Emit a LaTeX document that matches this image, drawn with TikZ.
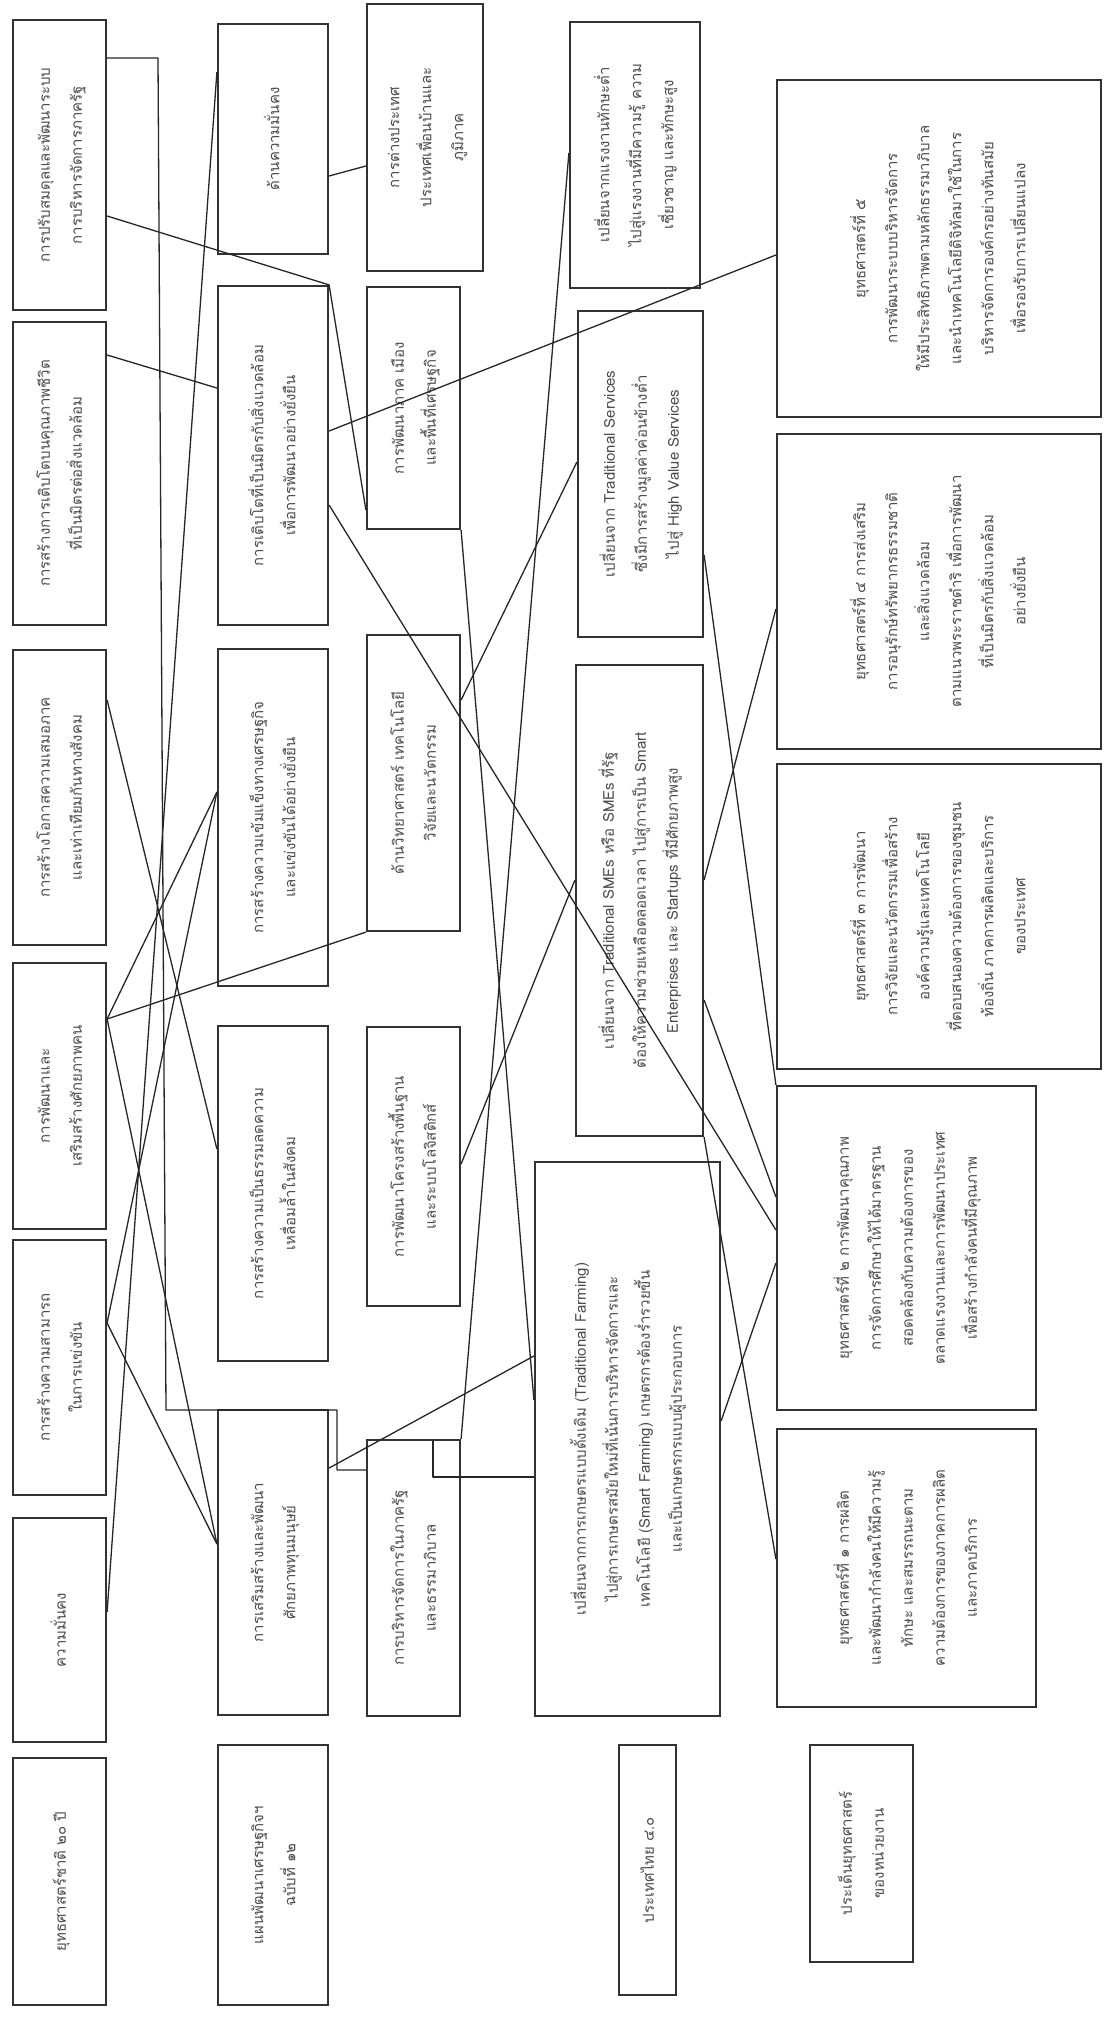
\documentclass[tikz,border=0pt]{standalone}
\usepackage{fontspec}
\setmainfont{Loma}[Script=Thai]
\usepackage{graphicx}
\newcommand\mybox[6]{%
  \node[box, minimum width={(#4)-(#2)}, minimum height={(#5)-(#3)}] (#1)
    at ({((#2)+(#4))/2},{((#3)+(#5))/2})
    {\rotatebox{90}{\begin{tabular}{@{}c@{}}#6\end{tabular}}};}
\begin{document}
\begin{tikzpicture}[x=1pt,y=-1pt,
  box/.style={draw=black!80, line width=2.2pt, inner sep=0pt,
    font=\fontsize{15}{32}\selectfont, text=black!70},
  conn/.style={draw=black!85, line width=1.3pt, line join=round}]
\useasboundingbox[fill=white] (0,0) rectangle (1105,2031);
% column 1
\mybox{A1}{13}{20}{106}{310}{การปรับสมดุลและพัฒนาระบบ\\การบริหารจัดการภาครัฐ}
\mybox{A2}{13}{322}{106}{625}{การสร้างการเติบโตบนคุณภาพชีวิต\\ที่เป็นมิตรต่อสิ่งแวดล้อม}
\mybox{A3}{13}{650}{106}{945}{การสร้างโอกาสความเสมอภาค\\และเท่าเทียมกันทางสังคม}
\mybox{A4}{13}{963}{106}{1229}{การพัฒนาและ\\เสริมสร้างศักยภาพคน}
\mybox{A5}{13}{1240}{106}{1495}{การสร้างความสามารถ\\ในการแข่งขัน}
\mybox{A6}{13}{1518}{106}{1742}{ความมั่นคง}
\mybox{A7}{13}{1758}{106}{2005}{ยุทธศาสตร์ชาติ ๒๐ ปี}
% column 2
\mybox{B1}{218}{24}{328}{254}{ด้านความมั่นคง}
\mybox{B2}{218}{286}{328}{625}{การเติบโตที่เป็นมิตรกับสิ่งแวดล้อม\\เพื่อการพัฒนาอย่างยั่งยืน}
\mybox{B3}{218}{649}{328}{986}{การสร้างความเข้มแข็งทางเศรษฐกิจ\\และแข่งขันได้อย่างยั่งยืน}
\mybox{B4}{218}{1026}{328}{1361}{การสร้างความเป็นธรรมลดความ\\เหลื่อมล้ำในสังคม}
\mybox{B5}{218}{1410}{328}{1715}{การเสริมสร้างและพัฒนา\\ศักยภาพทุนมนุษย์}
\mybox{B6}{218}{1745}{328}{2005}{แผนพัฒนาเศรษฐกิจฯ\\ฉบับที่ ๑๒}
% column 3
\mybox{C1}{367}{4}{483}{271}{การต่างประเทศ\\ประเทศเพื่อนบ้านและ\\ภูมิภาค}
\mybox{C2}{367}{287}{460}{529}{การพัฒนาภาค เมือง\\และพื้นที่เศรษฐกิจ}
\mybox{C3}{367}{635}{460}{931}{ด้านวิทยาศาสตร์ เทคโนโลยี\\วิจัยและนวัตกรรม}
\mybox{C4}{367}{1027}{460}{1306}{การพัฒนาโครงสร้างพื้นฐาน\\และระบบโลจิสติกส์}
\mybox{C5}{367}{1440}{460}{1716}{การบริหารจัดการในภาครัฐ\\และธรรมาภิบาล}
% column 4
\mybox{D1}{570}{22}{700}{288}{เปลี่ยนจากแรงงานทักษะต่ำ\\ไปสู่แรงงานที่มีความรู้ ความ\\เชี่ยวชาญ และทักษะสูง}
\mybox{D2}{578}{311}{703}{637}{เปลี่ยนจาก Traditional Services\\ซึ่งมีการสร้างมูลค่าค่อนข้างต่ำ\\ไปสู่ High Value Services}
\mybox{D3}{576}{665}{703}{1136}{เปลี่ยนจาก Traditional SMEs หรือ SMEs ที่รัฐ\\ต้องให้ความช่วยเหลือตลอดเวลา ไปสู่การเป็น Smart\\Enterprises และ Startups ที่มีศักยภาพสูง}
\mybox{D4}{535}{1162}{720}{1716}{เปลี่ยนจากการเกษตรแบบดั้งเดิม (Traditional Farming)\\ไปสู่การเกษตรสมัยใหม่ที่เน้นการบริหารจัดการและ\\เทคโนโลยี (Smart Farming) เกษตรกรต้องร่ำรวยขึ้น\\และเป็นเกษตรกรแบบผู้ประกอบการ}
\mybox{D5}{619}{1745}{676}{1995}{ประเทศไทย ๔.๐}
% column 5
\mybox{E1}{777}{80}{1101}{417}{ยุทธศาสตร์ที่ ๕\\การพัฒนาระบบบริหารจัดการ\\ให้มีประสิทธิภาพตามหลักธรรมาภิบาล\\และนำเทคโนโลยีดิจิทัลมาใช้ในการ\\บริหารจัดการองค์กรอย่างทันสมัย\\เพื่อรองรับการเปลี่ยนแปลง}
\mybox{E2}{777}{434}{1101}{749}{ยุทธศาสตร์ที่ ๔ การส่งเสริม\\การอนุรักษ์ทรัพยากรธรรมชาติ\\และสิ่งแวดล้อม\\ตามแนวพระราชดำริ เพื่อการพัฒนา\\ที่เป็นมิตรกับสิ่งแวดล้อม\\อย่างยั่งยืน}
\mybox{E3}{777}{764}{1101}{1069}{ยุทธศาสตร์ที่ ๓ การพัฒนา\\การวิจัยและนวัตกรรมเพื่อสร้าง\\องค์ความรู้และเทคโนโลยี\\ที่ตอบสนองความต้องการของชุมชน\\ท้องถิ่น ภาคการผลิตและบริการ\\ของประเทศ}
\mybox{E4}{777}{1086}{1036}{1410}{ยุทธศาสตร์ที่ ๒ การพัฒนาคุณภาพ\\การจัดการศึกษาให้ได้มาตรฐาน\\สอดคล้องกับความต้องการของ\\ตลาดแรงงานและการพัฒนาประเทศ\\เพื่อสร้างกำลังคนที่มีคุณภาพ}
\mybox{E5}{777}{1429}{1036}{1707}{ยุทธศาสตร์ที่ ๑ การผลิต\\และพัฒนากำลังคนให้มีความรู้\\ทักษะ และสมรรถนะตาม\\ความต้องการของภาคการผลิต\\และภาคบริการ}
\mybox{E6}{810}{1745}{913}{1962}{ประเด็นยุทธศาสตร์\\ของหน่วยงาน}
% connectors
\draw[conn] (A1.east |- 0,58) -- (158,58) -- (166,1410) -- (337,1410) -- (337,1470)
  -- (C5.west |- 0,1470);
\draw[conn] (433,1440) -- (433,1477) -- (D4.west |- 0,1477);
\draw[conn] (A1.east |- 0,216) -- (B2.north east) -- (C2.west |- 0,510);
\draw[conn] (A2.east |- 0,355) -- (B2.west |- 0,388);
\draw[conn] (A3.east |- 0,700) -- (B4.west |- 0,1149);
\draw[conn] (A4.east |- 0,1019) -- (B3.west |- 0,792);
\draw[conn] (A4.east |- 0,1019) -- (C3.south west);
\draw[conn] (A4.east |- 0,1019) -- (B5.west |- 0,1544);
\draw[conn] (A5.east |- 0,1323) -- (B3.west |- 0,792);
\draw[conn] (A5.east |- 0,1323) -- (B5.west |- 0,1544);
\draw[conn] (A6.east |- 0,1612) -- (B1.west |- 0,72);
\draw[conn] (B1.east |- 0,176) -- (C1.west |- 0,166);
\draw[conn] (B2.east |- 0,431) -- (E1.west |- 0,255);
\draw[conn] (B2.east |- 0,505) -- (E4.west |- 0,1230);
\draw[conn] (C2.south east) -- (D4.west |- 0,1400);
\draw[conn] (C3.east |- 0,700) -- (D2.west |- 0,462);
\draw[conn] (C4.east |- 0,1164) -- (D3.west |- 0,880);
\draw[conn] (B5.east |- 0,1468) -- (D4.west |- 0,1356);
\draw[conn] (D1.west |- 0,153) -- (C5.north east);
\draw[conn] (D2.east |- 0,555) -- (E4.north west);
\draw[conn] (D3.east |- 0,880) -- (E2.west |- 0,609);
\draw[conn] (D3.east |- 0,1000) -- (E4.west |- 0,1197);
\draw[conn] (D3.south east) -- (E5.west |- 0,1559);
\draw[conn] (D4.east |- 0,1421) -- (E4.west |- 0,1263);
\end{tikzpicture}
\end{document}
